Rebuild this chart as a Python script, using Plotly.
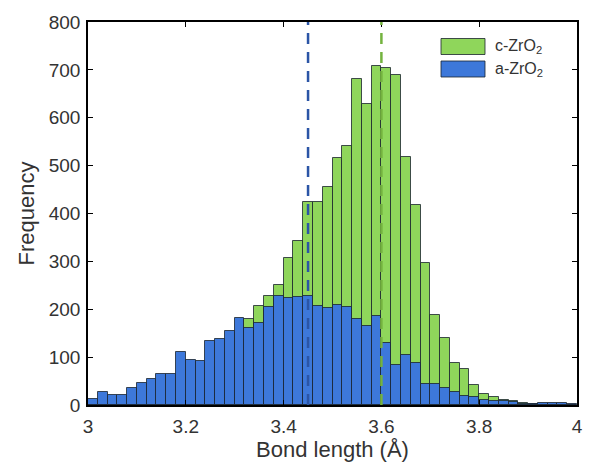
import plotly.graph_objects as go

bin_start = 3.0
bin_width = 0.02
# a-ZrO2 (blue) frequencies, bins 3.00-3.02 ... 3.98-4.00
a_zro2 = [13, 28, 20, 20, 35, 46, 55, 65, 65, 110,
          94, 92, 133, 138, 155, 181, 161, 171, 204, 227,
          223, 225, 227, 206, 202, 208, 204, 180, 166, 186,
          130, 84, 104, 88, 44, 44, 35, 27, 18, 17,
          11, 8, 9, 6, 3, 3, 4, 4, 4, 3]
# c-ZrO2 (green) frequencies
c_zro2 = [0, 0, 0, 0, 1, 2, 3, 5, 8, 12,
          20, 35, 55, 80, 110, 150, 179, 207, 227, 250,
          307, 343, 424, 424, 455, 515, 540, 681, 629, 708,
          703, 690, 517, 418, 296, 187, 141, 88, 75, 42,
          23, 17, 11, 8, 5, 3, 2, 2, 2, 1]
mean_a = 3.45
mean_c = 3.60
x_ticks = [3, 3.2, 3.4, 3.6, 3.8, 4]
x_ticklabels = ["3", "3.2", "3.4", "3.6", "3.8", "4"]
y_ticks = [0, 100, 200, 300, 400, 500, 600, 700, 800]
labels = ["c-ZrO<sub>2</sub>", "a-ZrO<sub>2</sub>"]

green = "#8fd65b"
blue = "#3d78da"
edge = "rgba(25,35,45,0.8)"
font_family = "Liberation Sans, Arial"
text_color = "#333333"

centers = [bin_start + bin_width * (i + 0.5) for i in range(len(a_zro2))]

fig = go.Figure()
fig.add_trace(go.Bar(x=centers, y=c_zro2, width=bin_width,
                     marker=dict(color=green, line=dict(color=edge, width=1)), showlegend=False))
fig.add_trace(go.Bar(x=centers, y=a_zro2, width=bin_width,
                     marker=dict(color=blue, line=dict(color=edge, width=1)), showlegend=False))

fig.add_shape(type="line", x0=mean_a, x1=mean_a, y0=0, y1=800, xref="x", yref="y",
              line=dict(color="#2b55a6", width=2.5, dash="11px,8px"))
fig.add_shape(type="line", x0=mean_c, x1=mean_c, y0=0, y1=800, xref="x", yref="y",
              line=dict(color="#74b33f", width=2.5, dash="11px,8px"))

# legend drawn manually (wide patches like the original)
W, H = 589, 466
ml, mr, mt, mb = 88, 12, 22, 61
pw, ph = W - ml - mr, H - mt - mb
def px2paper_x(px):
    return (px - ml) / pw
def px2paper_y(py):
    return 1 - (py - mt) / ph
for (y0, y1, col, lab) in [(38.5, 54.5, green, labels[0]), (61, 77, blue, labels[1])]:
    fig.add_shape(type="rect", xref="paper", yref="paper",
                  x0=px2paper_x(441), x1=px2paper_x(485),
                  y0=px2paper_y(y1), y1=px2paper_y(y0),
                  fillcolor=col, line=dict(color=edge, width=1))
    fig.add_annotation(xref="paper", yref="paper", x=px2paper_x(493), y=px2paper_y((y0 + y1) / 2),
                       text=lab, showarrow=False, xanchor="left", yanchor="middle",
                       font=dict(family=font_family, size=16, color=text_color))

axis_common = dict(showline=True, linecolor="black", linewidth=1.5, mirror="ticks",
                   ticks="inside", ticklen=5, tickwidth=1.2, tickcolor="black",
                   showgrid=False, zeroline=False, automargin=False,
                   tickfont=dict(family=font_family, size=19, color=text_color))

fig.update_layout(
    width=W, height=H,
    margin=dict(l=ml, r=mr, t=mt, b=mb, autoexpand=False),
    barmode="overlay", bargap=0,
    plot_bgcolor="white", paper_bgcolor="white",
    xaxis=dict(range=[3, 4], tickvals=x_ticks, ticktext=x_ticklabels,
               ticklabelstandoff=3,
               title=dict(text="Bond length (Å)", standoff=6,
                          font=dict(family=font_family, size=22, color=text_color)),
               **axis_common),
    yaxis=dict(range=[0, 800], tickvals=y_ticks, ticklabelstandoff=2,
               title=dict(text="Frequency", standoff=8,
                          font=dict(family=font_family, size=22, color=text_color)),
               **axis_common),
)

fig.write_html("out.html")
